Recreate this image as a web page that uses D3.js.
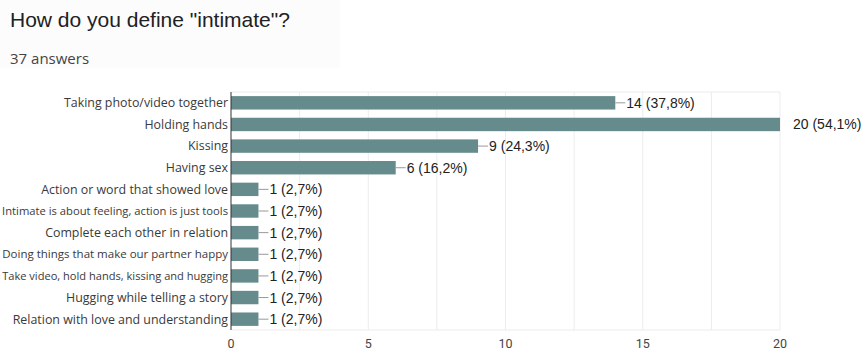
<!DOCTYPE html>
<html>
<head>
<meta charset="utf-8">
<script src="https://cdn.jsdelivr.net/npm/d3@7"></script>
<style>
  body { margin: 0; background: #fff; }
</style>
</head>
<body>
<div id="chart"></div>
<script>
const categories = [
  "Taking photo/video together",
  "Holding hands",
  "Kissing",
  "Having sex",
  "Action or word that showed love",
  "Intimate is about feeling, action is just tools",
  "Complete each other in relation",
  "Doing things that make our partner happy",
  "Take video, hold hands, kissing and hugging",
  "Hugging while telling a story",
  "Relation with love and understanding"
];
const counts = [14, 20, 9, 6, 1, 1, 1, 1, 1, 1, 1];
const percents = ["37,8%", "54,1%", "24,3%", "16,2%", "2,7%", "2,7%", "2,7%", "2,7%", "2,7%", "2,7%", "2,7%"];
const xTicks = [0, 5, 10, 15, 20];
const gridTicks = [2.5, 5, 7.5, 10, 12.5, 15, 17.5, 20];

const width = 863, height = 351;
const margin = { top: 92, right: 83, bottom: 21, left: 231 };

const svg = d3.select("#chart").append("svg")
  .attr("width", width)
  .attr("height", height);

// header
svg.append("rect").attr("x", 0).attr("y", 0).attr("width", 340).attr("height", 68).attr("fill", "#fcfcfc");
svg.append("text").attr("x", 10).attr("y", 27)
  .style("font-family", "Arial, 'Liberation Sans', sans-serif").style("font-size", "21px").attr("fill", "#202124")
  .text('How do you define "intimate"?');
svg.append("text").attr("x", 10).attr("y", 64)
  .style("font-family", "'Open Sans', sans-serif").style("font-size", "15px").attr("fill", "#444")
  .text("37 answers");

const x = d3.scaleLinear().domain([0, 20]).range([margin.left, width - margin.right]);
const y = d3.scaleBand().domain(categories).range([margin.top, height - margin.bottom]).paddingInner(0.38).paddingOuter(0.19);

// grid
svg.append("g").selectAll("line").data(gridTicks).join("line")
  .attr("x1", d => x(d)).attr("x2", d => x(d))
  .attr("y1", margin.top).attr("y2", height - margin.bottom)
  .attr("stroke", "#ececec").attr("stroke-width", 1);
svg.append("line")
  .attr("x1", margin.left).attr("x2", x(20))
  .attr("y1", margin.top).attr("y2", margin.top)
  .attr("stroke", "#ececec");
svg.append("line")
  .attr("x1", margin.left).attr("x2", x(20))
  .attr("y1", height - margin.bottom).attr("y2", height - margin.bottom)
  .attr("stroke", "#ececec");

// bars
const rows = svg.append("g").selectAll("g").data(categories).join("g");
rows.append("rect")
  .attr("x", margin.left)
  .attr("y", d => y(d))
  .attr("width", (d, i) => x(counts[i]) - x(0))
  .attr("height", y.bandwidth())
  .attr("fill", "#668b8c");

// connectors + value labels
rows.append("line")
  .attr("x1", (d, i) => x(counts[i]))
  .attr("x2", (d, i) => counts[i] === 20 ? x(counts[i]) : x(counts[i]) + 10)
  .attr("y1", d => y(d) + y.bandwidth() / 2)
  .attr("y2", d => y(d) + y.bandwidth() / 2)
  .attr("stroke", "#999");
rows.append("text")
  .attr("x", (d, i) => counts[i] === 20 ? x(counts[i]) + 13 : x(counts[i]) + 11)
  .attr("y", d => y(d) + y.bandwidth() / 2)
  .attr("dy", "0.36em")
  .style("font-family", "Arial, 'Liberation Sans', sans-serif").style("font-size", "14px").attr("fill", "#222")
  .text((d, i) => `${counts[i]} (${percents[i]})`);

// category labels, long ones shrunk to fit the left margin
const labels = svg.append("g").selectAll("text").data(categories).join("text")
  .attr("x", margin.left - 3)
  .attr("y", d => y(d) + y.bandwidth() / 2)
  .attr("dy", "0.35em")
  .attr("text-anchor", "end")
  .style("font-family", "'Open Sans', sans-serif").style("font-size", "12.4px").attr("fill", "#3a3a3a")
  .text(d => d);
labels.each(function () {
  const w = this.getComputedTextLength();
  const maxW = margin.left - 5;
  if (w > maxW) d3.select(this).style("font-size", (12.4 * maxW / w) + "px");
});

// left axis line
svg.append("line")
  .attr("x1", margin.left).attr("x2", margin.left)
  .attr("y1", margin.top).attr("y2", height - margin.bottom)
  .attr("stroke", "#333");

// x tick labels
svg.append("g").selectAll("text").data(xTicks).join("text")
  .attr("x", d => x(d)).attr("y", 348)
  .attr("text-anchor", "middle")
  .style("font-family", "Roboto, Arial, sans-serif").style("font-size", "12.5px").attr("fill", "#444")
  .text(d => d);
</script>
</body>
</html>
